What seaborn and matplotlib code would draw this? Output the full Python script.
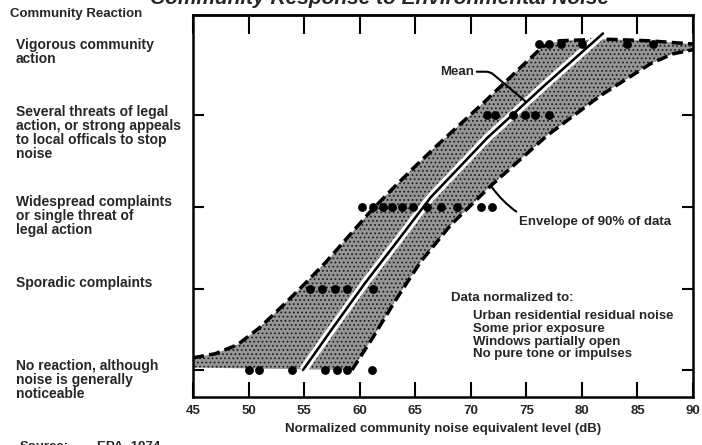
import numpy as np
import matplotlib
matplotlib.use("Agg")
import matplotlib.pyplot as plt
import seaborn as sns

# 横轴: 归一化社区噪声等效声级 (dB)
x_ticks = [45, 50, 55, 60, 65, 70, 75, 80, 85, 90]

# 纵轴: 社区反应等级 (从图上读取的位置)
reaction_levels = [0, 1, 2, 3.13, 4]
reaction_labels = [
    "No reaction, although\nnoise is generally\nnoticeable",
    "Sporadic complaints",
    "Widespread complaints\nor single threat of\nlegal action",
    "Several threats of legal\naction, or strong appeals\nto local officals to stop\nnoise",
    "Vigorous community\naction",
]

# 90% 数据包络的上边界
upper_db = [45.0, 47.0, 49.0, 51.0, 53.0, 55.0, 57.0, 59.0, 61.0, 63.0, 65.0,
            67.0, 69.0, 71.0, 73.0, 75.0, 76.5, 78.0, 82.0, 86.0, 90.0]
upper_lvl = [0.15, 0.20, 0.31, 0.52, 0.78, 1.05, 1.33, 1.64, 1.95, 2.23, 2.50,
             2.76, 3.01, 3.26, 3.52, 3.78, 3.97, 4.04, 4.06, 4.04, 4.00]

# 90% 数据包络的下边界
lower_db = [59.3, 61.1, 63.2, 65.5, 68.2, 71.8, 76.9, 81.7, 86.2, 88.2, 90.0]
lower_lvl = [0.00, 0.38, 0.85, 1.33, 1.78, 2.26, 2.88, 3.37, 3.76, 3.88, 3.93]

# 平均曲线
mean_db = [54.9, 57.7, 60.5, 63.5, 66.4, 71.5, 76.7, 81.9]
mean_lvl = [0.00, 0.54, 1.07, 1.60, 2.12, 2.85, 3.50, 4.13]

# 各社区案例的数据点
obs_db = [50.0, 50.9, 53.9, 56.9, 58.0, 58.9, 61.1,
          55.5, 56.6, 57.8, 58.9, 61.2,
          60.2, 61.2, 62.1, 62.9, 63.8, 64.8, 66.1, 67.3, 68.8, 70.9, 71.9,
          71.5, 72.2, 73.8, 74.9, 75.8, 77.0,
          76.1, 77.0, 78.1, 80.0, 84.1, 86.4]
obs_lvl = [0, 0, 0, 0, 0, 0, 0,
           1, 1, 1, 1, 1,
           2, 2, 2, 2, 2, 2, 2, 2, 2, 2, 2,
           3.13, 3.13, 3.13, 3.13, 3.13, 3.13,
           4, 4, 4, 4, 4, 4]

sns.set_theme(style="white")
plt.rcParams["font.family"] = ["Liberation Sans", "DejaVu Sans"]
plt.rcParams["font.weight"] = "bold"
plt.rcParams["hatch.linewidth"] = 0.8

FS = 9.5
W, H = 702, 445
fig = plt.figure(figsize=(W / 100, H / 100), dpi=100)
ax = fig.add_axes([193 / W, 1 - 397 / H, 500 / W, 382 / H])

# 阴影包络
poly_x = upper_db + lower_db[::-1] + [45.0]
poly_y = upper_lvl + lower_lvl[::-1] + [0.03]
ax.fill(poly_x, poly_y, facecolor="#969696", edgecolor="#202020", hatch="....", linewidth=0, zorder=1)

# 包络虚线
sns.lineplot(x=upper_db, y=upper_lvl, sort=False, ax=ax, color="black", lw=2.5, zorder=3)
sns.lineplot(x=lower_db, y=lower_lvl, sort=False, ax=ax, color="black", lw=2.5, zorder=3)
for line in ax.lines:
    line.set_dashes([3.2, 1.5])

# 平均曲线 (白边黑线)
ax.plot(mean_db, mean_lvl, color="white", lw=6, solid_capstyle="butt", zorder=4)
sns.lineplot(x=mean_db, y=mean_lvl, sort=False, ax=ax, color="black", lw=1.8, zorder=5)

sns.scatterplot(x=obs_db, y=obs_lvl, ax=ax, color="black", s=34, edgecolor="black", zorder=6, legend=False)

ax.set_xlim(45, 90)
ax.set_ylim(-0.331, 4.356)
ax.set_xticks(x_ticks)
ax.set_xticklabels([str(t) for t in x_ticks], fontsize=FS, fontweight="bold")
ax.set_yticks(reaction_levels[:4])
ax.set_yticklabels([])
ax.tick_params(axis="x", direction="in", length=11, width=1.5, pad=6, bottom=True, top=False, color="black")
ax.tick_params(axis="y", direction="in", length=8, width=1.5, left=True, right=True, color="black")
top = ax.secondary_xaxis("top")
top.set_xticks(x_ticks)
top.set_xticklabels([])
top.tick_params(direction="in", length=14, width=1.5, color="black")
top.spines["top"].set_linewidth(1.8)
for s in ax.spines.values():
    s.set_color("black")
    s.set_linewidth(1.8)

ax.set_xlabel("Normalized community noise equivalent level (dB)", fontsize=FS, fontweight="bold", labelpad=4)
ax.set_ylabel("")

# 左侧反应等级说明
fig.text(10 / W, 1 - 14 / H, "Community Reaction", fontsize=FS, fontweight="bold", va="center")
label_top_px = [359, 276, 195, 105, 38]
for lab, py in zip(reaction_labels, label_top_px):
    fig.text(16 / W, 1 - py / H, lab, fontsize=10, fontweight="bold", va="top", linespacing=1.0)

# 注释
mean_at = 75.0
ax.annotate("Mean", xy=(mean_at, np.interp(mean_at, mean_db, mean_lvl)), xytext=(67.2, 3.66),
            fontsize=FS, fontweight="bold", va="center", ha="left",
            arrowprops=dict(arrowstyle="-", color="black", lw=1.5, shrinkA=0, shrinkB=0,
                            connectionstyle="angle,angleA=0,angleB=140,rad=4"),
            zorder=7)
env_at = 71.8
ax.annotate("Envelope of 90% of data", xy=(env_at, np.interp(env_at, lower_db, lower_lvl)), xytext=(74.3, 1.82),
            fontsize=FS, fontweight="bold", va="center", ha="left",
            arrowprops=dict(arrowstyle="-", color="black", lw=1.5, shrinkA=1, shrinkB=0,
                            connectionstyle="arc3,rad=-0.35"),
            zorder=7)
ax.text(68.2, 0.88, "Data normalized to:", fontsize=FS, fontweight="bold", va="center", ha="left")
ax.text(70.2, 0.74, "Urban residential residual noise\nSome prior exposure\nWindows partially open\nNo pure tone or impulses",
        fontsize=FS, fontweight="bold", va="top", ha="left", linespacing=1.1)

# 顶部被裁掉的标题与底部来源
fig.text(0.54, 1 - 4 / H, "Community Response to Environmental Noise", fontsize=15, fontweight="bold",
         style="italic", ha="center", va="baseline")
fig.text(20 / W, 1 - 441 / H, "Source:", fontsize=FS, fontweight="bold", va="top")
fig.text(97 / W, 1 - 441 / H, "EPA, 1974", fontsize=FS, fontweight="bold", va="top")

fig.savefig("out.png", dpi=100, facecolor="white")
